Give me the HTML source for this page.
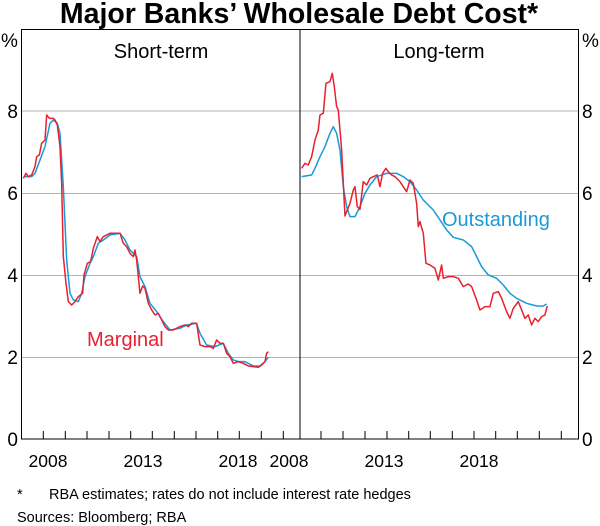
<!DOCTYPE html>
<html><head><meta charset="utf-8"><style>
html,body{margin:0;padding:0;background:#fff;}
svg{display:block;font-family:"Liberation Sans",Arial,sans-serif;}
</style></head><body>
<svg width="600" height="526" viewBox="0 0 600 526" xmlns="http://www.w3.org/2000/svg">
<text x="299" y="23" text-anchor="middle" font-size="28.5" font-weight="bold" fill="#000">Major Banks’ Wholesale Debt Cost*</text>
<g stroke="#b4b4b4" stroke-width="1">
<line x1="21" y1="111" x2="578" y2="111"/>
<line x1="21" y1="193.5" x2="578" y2="193.5"/>
<line x1="21" y1="275.5" x2="578" y2="275.5"/>
<line x1="21" y1="357.5" x2="578" y2="357.5"/>
</g>
<g stroke="#000" stroke-width="1" fill="none">
<rect x="21.5" y="29.5" width="557" height="409.5"/>
<line x1="300" y1="29" x2="300" y2="439"/>
<path d="M43.3 439v-8M65.3 439v-8M87 439v-8M109 439v-8M130.7 439v-8M152.3 439v-8M174.3 439v-8M196 439v-8M217.7 439v-8M239.3 439v-8M261.3 439v-8M283.3 439v-8M321 439v-8M343 439v-8M365 439v-8M387 439v-8M408.7 439v-8M430.3 439v-8M452.3 439v-8M474 439v-8M495.7 439v-8M517.3 439v-8M539.3 439v-8M561.3 439v-8"/>
</g>
<g font-size="19" fill="#000">
<text x="1" y="47">%</text><text x="582" y="47">%</text>
<text x="18" y="118" text-anchor="end">8</text><text x="18" y="200" text-anchor="end">6</text><text x="18" y="282" text-anchor="end">4</text><text x="18" y="364" text-anchor="end">2</text><text x="18" y="446" text-anchor="end">0</text>
<text x="582" y="118">8</text><text x="582" y="200">6</text><text x="582" y="282">4</text><text x="582" y="364">2</text><text x="582" y="446">0</text>
</g>
<g font-size="17.5" fill="#000">
<text x="48" y="467" text-anchor="middle">2008</text><text x="143" y="467" text-anchor="middle">2013</text><text x="238" y="467" text-anchor="middle">2018</text>
<text x="289" y="467" text-anchor="middle">2008</text><text x="384" y="467" text-anchor="middle">2013</text><text x="479" y="467" text-anchor="middle">2018</text>
</g>
<g font-size="20" fill="#000">
<text x="161" y="58" text-anchor="middle">Short-term</text>
<text x="439" y="58" text-anchor="middle">Long-term</text>
<text x="87" y="346" fill="#e8202f">Marginal</text>
<text x="442" y="226" fill="#1a9ad6">Outstanding</text>
</g>
<g font-size="14.5" fill="#000">
<text x="17" y="499">*</text>
<text x="49" y="499">RBA estimates; rates do not include interest rate hedges</text>
<text x="17" y="522">Sources: Bloomberg; RBA</text>
</g>
<g fill="none" stroke-width="4.5" stroke-linejoin="round" transform="scale(0.3333)">
<polyline stroke="#1a9ad6" points="72,530 95,530 105,520 120,480 135,440 150,370 160,360 172,370 180,400 190,560 200,780 210,880 220,900 235,905 245,880 255,830 270,790 280,770 295,730 310,720 330,705 360,700 375,720 390,750 410,770 420,830 435,860 450,910 470,935 490,965 510,990 540,985 560,975 590,970 600,1000 620,1035 645,1040 670,1030 685,1060 700,1080 715,1085 735,1085 760,1098 780,1098 795,1085 805,1072"/>
<polyline stroke="#e8202f" points="70,535 78,520 85,530 95,525 105,500 110,470 118,465 125,430 135,420 140,345 148,355 160,355 165,360 172,375 180,440 185,550 190,770 198,850 205,905 215,915 225,905 235,890 248,880 252,825 262,790 272,785 280,745 292,710 300,725 310,710 320,705 330,700 345,700 360,700 370,730 380,740 390,760 400,770 405,750 410,780 420,880 428,858 435,865 445,910 455,930 465,945 475,940 485,960 495,980 505,990 520,990 540,980 555,975 565,980 575,970 590,970 600,1035 615,1040 630,1040 640,1045 650,1020 660,1030 670,1030 680,1060 690,1070 700,1090 715,1085 730,1090 745,1098 760,1100 775,1102 785,1095 795,1085 800,1060 805,1055"/>
<g transform="translate(900,0)">
<polyline stroke="#1a9ad6" points="5,530 35,525 45,505 60,470 75,440 90,400 100,380 110,400 120,450 130,560 140,620 150,650 165,650 180,620 195,580 210,555 230,530 260,520 290,520 310,530 330,545 350,570 370,600 400,630 420,660 440,690 460,712 490,720 515,740 530,770 545,800 565,825 590,835 610,855 630,880 650,895 680,910 710,918 730,918 740,912"/>
<polyline stroke="#e8202f" points="5,505 15,490 25,495 35,470 45,420 55,390 60,345 70,340 78,250 90,245 97,220 103,260 110,320 115,330 125,450 135,648 140,635 150,610 160,570 165,560 172,620 180,628 190,545 200,555 210,535 220,530 232,525 240,560 248,520 258,505 265,515 275,525 285,530 300,545 320,575 330,540 340,550 350,610 355,680 360,665 370,700 378,790 390,795 405,805 415,840 425,795 430,835 445,830 460,830 475,835 490,860 505,852 515,860 530,900 540,930 555,920 570,920 580,880 595,875 605,895 620,935 630,955 640,925 655,905 665,930 675,955 685,945 695,975 705,955 715,965 725,950 735,945 742,918"/>
</g>
</g>
</svg>
</body></html>
